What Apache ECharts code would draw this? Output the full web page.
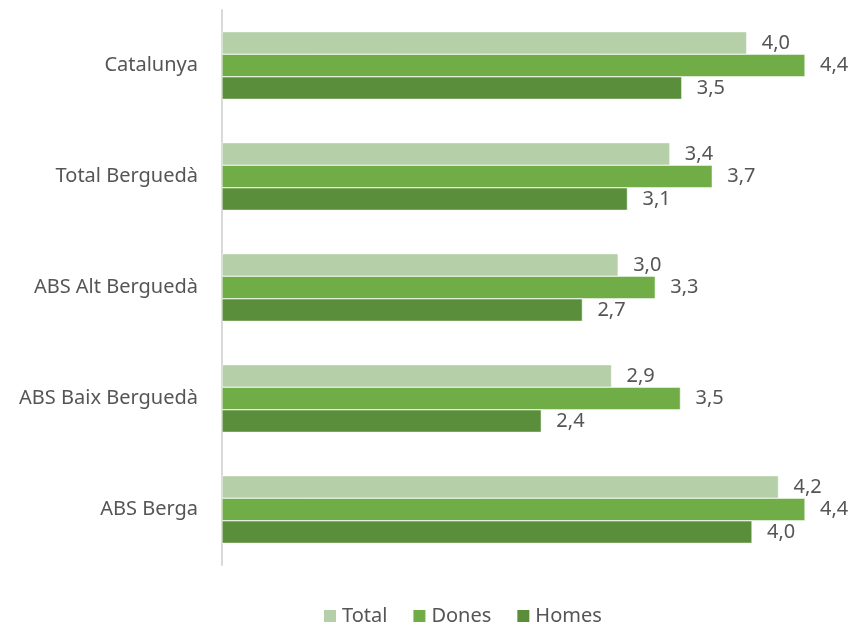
<!DOCTYPE html>
<html>
<head>
<meta charset="utf-8">
<script src="https://cdn.jsdelivr.net/npm/echarts@6/dist/echarts.min.js"></script>
<style>
html, body { margin: 0; padding: 0; background: #fff; }
#main { width: 855px; height: 625px; }
</style>
</head>
<body>
<div id="main"></div>
<script>
// categories (top to bottom)
var categories = ['Catalunya', 'Total Berguedà', 'ABS Alt Berguedà', 'ABS Baix Berguedà', 'ABS Berga'];
// values per series
var totalValues = [3.96, 3.38, 2.99, 2.94, 4.2];
var donesValues = [4.4, 3.7, 3.27, 3.46, 4.4];
var homesValues = [3.47, 3.06, 2.72, 2.41, 4.0];

var textColor = '#555555';
var fontFamily = 'Noto Sans';

function fmt(p) {
  return p.value.toFixed(1).replace('.', ',');
}

function makeSeries(name, data, color) {
  return {
    name: name,
    type: 'bar',
    data: data,
    barCategoryGap: '39%',
    barGap: '0%',
    itemStyle: { color: color, borderColor: '#fff', borderWidth: 0.5 },
    label: {
      show: true,
      position: 'right',
      distance: 15,
      formatter: fmt,
      color: textColor,
      fontSize: 20,
      fontFamily: fontFamily
    }
  };
}

var myChart = echarts.init(document.getElementById('main'));
var option = {
  animation: false,
  grid: { left: 222, right: 50, top: 10, bottom: 60 },
  legend: {
    left: 317,
    top: 601,
    itemWidth: 14,
    itemHeight: 14,
    itemGap: 24,
    icon: 'rect',
    textStyle: { color: textColor, fontSize: 20, fontFamily: fontFamily },
    data: ['Total', 'Dones', 'Homes']
  },
  xAxis: {
    type: 'value',
    min: 0,
    max: 4.4,
    show: false
  },
  yAxis: {
    type: 'category',
    inverse: true,
    data: categories,
    axisLine: { show: true, lineStyle: { color: '#D9D9D9', width: 2 } },
    axisTick: { show: false },
    axisLabel: { margin: 24, color: textColor, fontSize: 20, fontFamily: fontFamily }
  },
  series: [
    makeSeries('Total', totalValues, '#B5CFA8'),
    makeSeries('Dones', donesValues, '#70AD47'),
    makeSeries('Homes', homesValues, '#5B8E3A')
  ]
};
myChart.setOption(option);
</script>
</body>
</html>
